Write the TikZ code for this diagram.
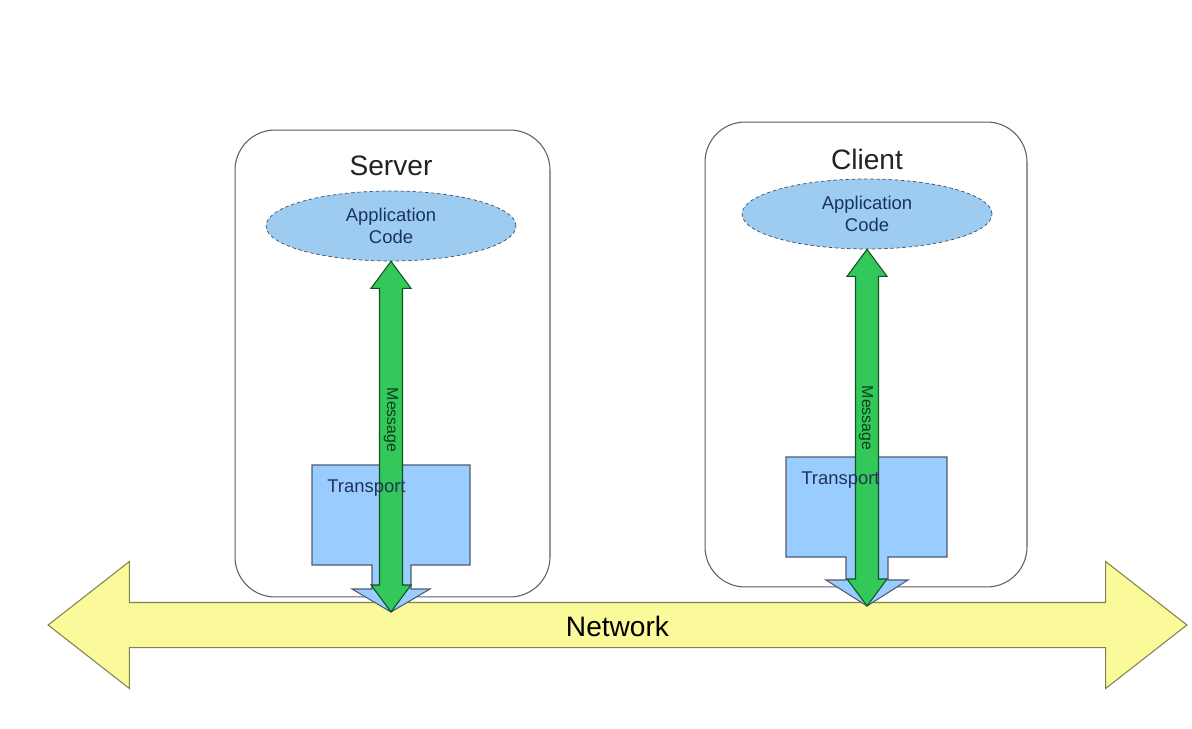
\documentclass[tikz,border=0pt]{standalone}
\usepackage{fontspec}
\setmainfont{Liberation Sans}
\usetikzlibrary{shapes.geometric,shapes.arrows}

\definecolor{hostLine}{RGB}{95,95,95}
\definecolor{hostText}{RGB}{35,35,35}
\definecolor{appFill}{RGB}{158,204,240}
\definecolor{appLine}{RGB}{60,80,110}
\definecolor{appText}{RGB}{25,50,100}
\definecolor{trFill}{RGB}{153,204,255}
\definecolor{trLine}{RGB}{80,90,110}
\definecolor{trText}{RGB}{35,50,90}
\definecolor{msgFill}{RGB}{50,200,90}
\definecolor{msgLine}{RGB}{20,80,35}
\definecolor{msgText}{RGB}{15,60,25}
\definecolor{netFill}{RGB}{250,250,155}
\definecolor{netLine}{RGB}{130,130,80}

\begin{document}
\begin{tikzpicture}%
        [x=0.02cm, y=-0.02cm,
        host/.style={draw=hostLine, line width=0.6pt, fill=white, rounded corners=0.8cm},
        hostLabel/.style={text=hostText, inner sep=0pt, font=\fontsize{16}{19}\selectfont},
        app/.style={ellipse, draw=appLine, dash pattern=on 2pt off 1.5pt, fill=appFill, inner sep=0pt, minimum width=5cm, minimum height=1.4cm, align=center, text=appText, font=\fontsize{10.5}{12.5}\selectfont},
        transport/.style={draw=trLine, line width=0.6pt, fill=trFill, line join=miter},
        transportLabel/.style={anchor=base west, inner sep=0pt, text=trText, font=\fontsize{10.5}{12.5}\selectfont},
        network/.style={double arrow, draw=netLine, line width=0.6pt, fill=netFill, minimum height=22.78cm, minimum width=2.52cm, double arrow head extend=0.82cm, double arrow tip angle=76, text height=0.44cm, text depth=0cm, inner ysep=0.22cm, inner xsep=0pt, font=\fontsize{16}{19}\selectfont},
        message/.style={draw=msgLine, line width=0.6pt, fill=msgFill, line join=miter,
          to path={-- ([xshift=0.4cm,yshift=-0.54cm]\tikztostart) -- ([xshift=0.23cm,yshift=-0.54cm]\tikztostart)
                   -- ([xshift=0.23cm,yshift=0.54cm]\tikztotarget) -- ([xshift=0.4cm,yshift=0.54cm]\tikztotarget)
                   -- (\tikztotarget)
                   -- ([xshift=-0.4cm,yshift=0.54cm]\tikztotarget) -- ([xshift=-0.23cm,yshift=0.54cm]\tikztotarget)
                   -- ([xshift=-0.23cm,yshift=-0.54cm]\tikztostart) -- ([xshift=-0.4cm,yshift=-0.54cm]\tikztostart)
                   -- cycle}},
        messageLabel/.style={rotate=-90, inner sep=0pt, text=msgText, font=\fontsize{9}{11}\selectfont}]
%
\fill[white] (0,0) rectangle (1192,729);
\useasboundingbox (0,0) rectangle (1192,729);
%
%% Coordinates of the arrow tips on the network:
%%
\coordinate (tipS) at (391,612);
\coordinate (tipC) at (867,606);
%%
%% The network
%%
\node[network] (net) at (617.5,625) {Network};
%%
%% Server and client
%%
\node[host, minimum width=6.3cm, minimum height=9.34cm] (server) at (392.5,363.5) {};
\node[host, minimum width=6.44cm, minimum height=9.3cm] (client) at (866,354.5) {};
\node[hostLabel] (serverLabel) at (391,166) {Server};
\node[hostLabel] (clientLabel) at (867,159) {Client};
%%
\node[app] (appS) at (391,226) {Application\\Code};
\node[app] (appC) at (867,214) {Application\\Code};
%%
%% Transport blocks
%%
\draw[transport] (312,465) -- (470,465) -- (470,565) -- (411,565) -- (411,589) -- (430,589) -- (391,612)
  -- (352,589) -- (372,589) -- (372,565) -- (312,565) -- cycle;
\draw[transport] (786,457) -- (947,457) -- (947,557) -- (888,557) -- (888,580) -- (908,580) -- (867,606)
  -- (826,580) -- (846,580) -- (846,557) -- (786,557) -- cycle;
%%
%% Messages
%%
\draw[message] (appS.south) to (tipS);
\draw[message] (appC.south) to (tipC);
%%
\node[transportLabel] (trS) at (327,492) {Transport};
\node[transportLabel] (trC) at (801,484) {Transport};
\node[messageLabel] (msgS) at (391,420) {Message};
\node[messageLabel] (msgC) at (866,418) {Message};
\end{tikzpicture}
\end{document}
